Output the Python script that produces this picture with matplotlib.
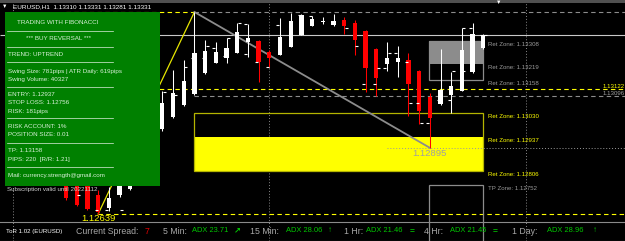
import matplotlib.pyplot as plt
from matplotlib.patches import Rectangle

# EURUSD H1 candles, bar index 0 = first bar right of the info panel
bars = list(range(-9, 31))
opens = [1.12790, 1.12780, 1.12760, 1.12713, 1.12662, 1.12713, 1.12736, 1.12800, 1.12880,
         1.12968, 1.13014, 1.13060, 1.13103, 1.13184, 1.13223, 1.13242, 1.13261, 1.13304,
         1.13308, 1.13265, 1.13254, 1.13285, 1.13331, 1.13366, 1.13381, 1.13370, 1.13389,
         1.13377, 1.13347, 1.13277, 1.13219, 1.13227, 1.13234, 1.13192, 1.13091, 1.13064,
         1.13099, 1.13115, 1.13188, 1.13281]
highs = [1.12800, 1.12795, 1.12770, 1.12730, 1.12743, 1.12790, 1.12830, 1.12900, 1.12990,
         1.13115, 1.13196, 1.13234, 1.13420, 1.13312, 1.13304, 1.13319, 1.13377, 1.13374,
         1.13310, 1.13273, 1.13397, 1.13416, 1.13412, 1.13404, 1.13401, 1.13412, 1.13401,
         1.13389, 1.13350, 1.13280, 1.13304, 1.13289, 1.13261, 1.13195, 1.13107, 1.13277,
         1.13188, 1.13358, 1.13377, 1.13335]
lows = [1.12695, 1.12670, 1.12654, 1.12639, 1.12650, 1.12705, 1.12730, 1.12790, 1.12870,
        1.12960, 1.13010, 1.13058, 1.13099, 1.13180, 1.13222, 1.13223, 1.13260, 1.13246,
        1.13149, 1.13207, 1.13252, 1.13283, 1.13330, 1.13366, 1.13374, 1.13366, 1.13335,
        1.13254, 1.13111, 1.13095, 1.13192, 1.13169, 1.13018, 1.12987, 1.12895, 1.13060,
        1.13029, 1.13113, 1.13186, 1.13277]
closes = [1.12701, 1.12674, 1.12660, 1.12647, 1.12701, 1.12760, 1.12800, 1.12880, 1.12960,
          1.13068, 1.13107, 1.13153, 1.13261, 1.13269, 1.13265, 1.13281, 1.13343, 1.13319,
          1.13227, 1.13242, 1.13323, 1.13385, 1.13408, 1.13393, 1.13385, 1.13385, 1.13366,
          1.13312, 1.13203, 1.13165, 1.13242, 1.13242, 1.13142, 1.13037, 1.13010, 1.13118,
          1.13134, 1.13273, 1.13335, 1.13331]

# little white tick marks beside the bars: (bar, price, side)
marks = [(-8, 1.12713, 1), (-6, 1.12654, -1), (-5, 1.12654, -1), (-4, 1.12654, 1),
         (0, 1.13037, -1), (0, 1.13111, 1), (1, 1.13099, 1), (2, 1.13207, 1),
         (3, 1.13242, -1), (4, 1.13289, 1), (4, 1.13242, -1), (5, 1.13281, -1),
         (6, 1.13250, -1), (6, 1.13319, 1), (7, 1.13377, 1), (8, 1.13374, -1),
         (8, 1.13258, -1), (9, 1.13227, -1), (10, 1.13207, -1), (11, 1.13370, -1),
         (13, 1.13408, -1), (14, 1.13404, -1), (17, 1.13358, 1), (18, 1.13289, 1),
         (19, 1.13142, -1), (20, 1.13142, -1), (20, 1.13203, 1), (21, 1.13261, 1),
         (21, 1.13203, -1), (22, 1.13261, -1), (23, 1.13227, -1), (23, 1.13068, 1),
         (24, 1.13068, -1), (24, 1.12991, 1), (25, 1.12991, -1), (26, 1.13080, -1),
         (27, 1.13192, 1), (27, 1.13080, -1), (28, 1.13358, 1), (28, 1.13192, 1),
         (29, 1.13358, -1), (30, 1.13331, -1), (30, 1.13331, 1)]

swing_low, swing_low_bar = 1.12639, -6
swing_high, swing_high_bar = 1.13420, 3
last_low, last_low_bar = 1.12895, 25
bid = 1.13331
level_yellow = 1.13122
level_gray = 1.13096
ret_gray = [1.13308, 1.13219, 1.13158]
ret_yellow = [1.13030, 1.12937, 1.12806]
tp_zone = 1.12752
day_separators = [-14, 10, 34]

panel_lines = ["TRADING WITH FIBONACCI", "*** BUY REVERSAL ***", "TREND: UPTREND",
               "Swing Size: 781pips | ATR Daily: 619pips", "Swing Volume: 40327",
               "ENTRY: 1.12937", "STOP LOSS: 1.12756", "RISK: 181pips",
               "RISK ACCOUNT: 1%", "POSITION SIZE: 0.01",
               "TP: 1.13158", "PIPS: 220  [R/R: 1.21]",
               "Mail: currency.strength@gmail.com"]
adx_frames = ["5 Min:", "15 Min:", "1 Hr:", "4 Hr:", "1 Day:"]
adx_values = [23.71, 28.06, 21.46, 21.45, 28.96]
adx_arrows = ["↗", "↑", "=", "=", "↑"]

XL, XR = -15.17, 43.24
FONT = ['Liberation Sans', 'DejaVu Sans']
YEL = '#ffff00'
GRY = '#8c8c8c'

fig = plt.figure(figsize=(6.25, 2.41), dpi=100)
fig.patch.set_facecolor('black')
ax = fig.add_axes([0, 0, 1, 1])
ax.set_xlim(XL, XR)
ax.set_ylim(1.125346, 1.134664)
ax.axis('off')

for s in day_separators:
    ax.axvline(s, color='#8a8a8a', lw=0.7, ls=(0, (1, 2)), zorder=1)

dash = (0, (4, 3))
ax.hlines(bid, XL, XR, color='#c8c8c8', lw=0.8, zorder=1)
ax.hlines(swing_high, -9, swing_high_bar, color=YEL, lw=0.8, ls=dash, zorder=1)
ax.hlines(swing_high, swing_high_bar, XR, color=GRY, lw=0.8, ls=dash, zorder=1)
ax.hlines(level_yellow, -9, XR, color=YEL, lw=0.8, ls=dash, zorder=1)
ax.hlines(level_gray, swing_high_bar, XR, color=GRY, lw=0.8, ls=dash, zorder=1)
ax.hlines(swing_low, swing_low_bar, XR, color=YEL, lw=0.8, ls=dash, zorder=1)

# retracement zones
ax.add_patch(Rectangle((24.94, ret_gray[1]), 5.06, ret_gray[0] - ret_gray[1],
                       fc='#8c8c8c', ec='none', zorder=1))
ax.add_patch(Rectangle((24.94, ret_gray[2]), 5.06, ret_gray[0] - ret_gray[2],
                       fill=False, ec='#8c8c8c', lw=0.9, zorder=1))
ax.add_patch(Rectangle((swing_high_bar, ret_yellow[2]), 30 - swing_high_bar,
                       ret_yellow[1] - ret_yellow[2], fc=YEL, ec='none', zorder=1))
ax.add_patch(Rectangle((swing_high_bar, ret_yellow[2]), 30 - swing_high_bar,
                       ret_yellow[0] - ret_yellow[2], fill=False, ec='#b4b400',
                       lw=0.9, zorder=1))
ax.add_patch(Rectangle((24.94, 1.1250), 5.06, tp_zone - 1.1250,
                       fill=False, ec='#8c8c8c', lw=0.9, zorder=1))
ax.hlines(last_low, 21, XR, color='#9a9a9a', lw=0.7, ls=(0, (1, 2)), zorder=2)

ax.plot([swing_low_bar, swing_high_bar], [swing_low, swing_high], color='#e6e600',
        lw=0.9, zorder=2)
ax.plot([swing_high_bar, last_low_bar], [swing_high, last_low], color='#8c8c8c',
        lw=1.3, zorder=2)

# candles
for b, o, h, l, c in zip(bars, opens, highs, lows, closes):
    col = 'white' if c >= o else '#ff0000'
    ax.vlines(b, l, h, color=col, lw=0.75, zorder=4)
    ax.bar(b, max(abs(c - o), 0.00004), bottom=min(o, c), width=0.4,
           color=col, zorder=4)
for b, p, side in marks:
    ax.hlines(p, b + side * 0.05, b + side * 0.33, color='white', lw=0.8, zorder=4)

for p in ret_gray:
    ax.annotate(f"Ret Zone: {p:.5f}", (30.4, p), xytext=(0, -2.6),
                textcoords='offset points', color='#9a9a9a', fontsize=4.4,
                family=FONT, va='center', ha='left', zorder=5)
for p in ret_yellow:
    ax.annotate(f"Ret Zone: {p:.5f}", (30.4, p), xytext=(0, -2.6),
                textcoords='offset points', color=YEL, fontsize=4.4,
                family=FONT, va='center', ha='left', zorder=5)
ax.annotate(f"TP Zone: {tp_zone:.5f}", (30.4, tp_zone), xytext=(0, -2.6),
            textcoords='offset points', color='#9a9a9a', fontsize=4.4,
            family=FONT, va='center', ha='left', zorder=5)
ax.annotate(f"{last_low:.5f}", (last_low_bar, last_low), xytext=(0, -4),
            textcoords='offset points', color='#a0a0a0', fontsize=6.8,
            family=FONT, va='center', ha='center', zorder=5)
ax.annotate(f"{swing_low:.5f}", (swing_low_bar, swing_low), xytext=(0, -3.6),
            textcoords='offset points', color=YEL, fontsize=6.8,
            family=FONT, va='center', ha='center', zorder=5)
ax.annotate(f"{level_yellow:.5f}", (XR, level_yellow), xytext=(-16, 2),
            textcoords='offset points', color=YEL, fontsize=4.4,
            family=FONT, va='center', ha='left', zorder=5)
ax.annotate(f"{level_gray:.5f}", (XR, level_gray), xytext=(-16, 2),
            textcoords='offset points', color='#a0a0a0', fontsize=4.4,
            family=FONT, va='center', ha='left', zorder=5)

# overlay in pixel units for the panel and the status bar
ov = fig.add_axes([0, 0, 1, 1])
ov.set_xlim(0, 625)
ov.set_ylim(241, 0)
ov.axis('off')
ov.patch.set_alpha(0)

ov.add_patch(Rectangle((0, 0), 625, 2.5, fc='#505050', ec='none'))
ov.text(5, 6, "▼", color='white', fontsize=4, family=FONT, ha='center', va='center')
ov.text(499, 2.5, "▼", color='white', fontsize=4, family=FONT, ha='center', va='center')
ov.text(13, 6.5, "EURUSD,H1  1.13310 1.13331 1.13281 1.13331", color='white',
        fontsize=4.6, family=FONT, va='center')

ov.add_patch(Rectangle((5, 12), 155, 174, fc='#008000', ec='none', zorder=3))
panel_y = [23, 38, 54, 71, 79, 95, 103, 111, 126, 134, 151, 159, 175]
for txt, y in zip(panel_lines, panel_y):
    if y < 45:
        ov.text(58, y, txt, color='#d8f0d8', fontsize=4.5, family=FONT,
                ha='center', va='center', zorder=4)
    else:
        ov.text(8, y, txt, color='#d8f0d8', fontsize=4.5, family=FONT,
                ha='left', va='center', zorder=4)
for y in [31, 47, 62, 87, 118, 143, 167]:
    ov.plot([7, 113], [y, y], color='#e0f0e0', lw=0.5, zorder=4)
ov.text(7, 190, "Subscription valid until 20221112", color='#d0d0d0', fontsize=4.5,
        family=FONT, va='center', zorder=4)

# status bar
ov.plot([0, 625], [222, 222], color='#8a8a8a', lw=0.8)
ov.plot([0, 625], [240.5, 240.5], color='#8a8a8a', lw=0.8)
sy = 231
ov.text(6, sy, "ToR 1.02 (EURUSD)", color='white', fontsize=4.4, family=FONT, va='center')
ov.text(76, sy, "Current Spread:", color='#a8a8a8', fontsize=6.3, family=FONT, va='center')
ov.text(145, sy, "7", color='#e00000', fontsize=6.3, family=FONT, va='center')
frame_x = [163, 250, 344, 424, 512]
value_x = [192, 286, 366, 450, 547]
arrow_x = [237, 330, 412, 495, 595]
for fr, v, ar, fx, vx, axx in zip(adx_frames, adx_values, adx_arrows, frame_x, value_x, arrow_x):
    ov.text(fx, sy, fr, color='#a8a8a8', fontsize=6.3, family=FONT, va='center')
    ov.text(vx, sy, f"ADX {v:.2f}", color='#00c800', fontsize=5.4, family=FONT, va='center')
    ov.text(axx, sy, ar, color='#00c800', fontsize=6, family=FONT, va='center',
            ha='center', fontweight='bold')

fig.savefig('out.png', dpi=100, facecolor='black')
